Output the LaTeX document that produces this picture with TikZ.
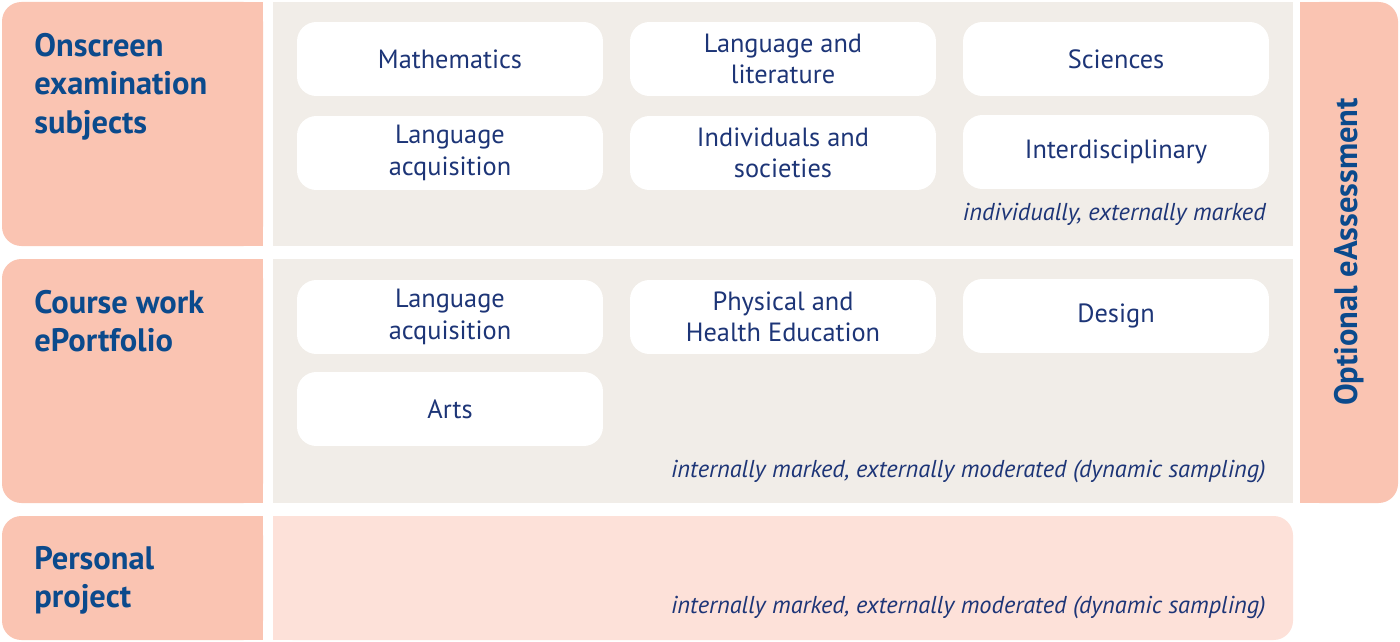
\documentclass[tikz,border=0pt]{standalone}
\usepackage{fontspec}
\setmainfont{PT Sans}
\definecolor{salmon}{HTML}{FAC4B2}
\definecolor{panelgrey}{HTML}{F1EDE8}
\definecolor{palepink}{HTML}{FDE1D9}
\definecolor{headblue}{HTML}{0B4A8C}
\definecolor{textnavy}{HTML}{1D3577}
\tikzset{
  subj/.style={fill=white, rounded corners=11pt, minimum width=6.12cm, minimum height=1.48cm,
    align=center, text=textnavy, font=\fontsize{15}{18}\selectfont},
  head/.style={anchor=north west, inner sep=0pt, align=left, text=headblue, font=\fontsize{18.5}{21.8}\selectfont\bfseries},
  note/.style={anchor=base east, inner sep=0pt, text=textnavy, font=\fontsize{13.9}{16}\selectfont\itshape},
}
\begin{document}
\begin{tikzpicture}[x=0.02cm, y=-0.02cm]
	\useasboundingbox (0,0) rectangle (1400,642);

	% left column
	\fill[salmon, rounded corners=11pt] (2,2) rectangle (263,246);
	\fill[salmon] (150,2) rectangle (263,246);
	\fill[salmon, rounded corners=11pt] (2,259) rectangle (263,503);
	\fill[salmon] (150,259) rectangle (263,503);
	\fill[salmon, rounded corners=11pt] (2,516) rectangle (263,640);
	\fill[salmon] (150,516) rectangle (263,640);

	% panels
	\fill[panelgrey] (273,2) rectangle (1293,246);
	\fill[panelgrey] (273,259) rectangle (1293,503);
	\fill[palepink, rounded corners=11pt] (273,516) rectangle (1293,640);
	\fill[palepink] (273,516) rectangle (900,640);

	% right column
	\fill[salmon, rounded corners=11pt] (1300,2) rectangle (1398,503);
	\fill[salmon] (1300,2) rectangle (1340,503);

	% headings
	\node[head] (onscreen) at (34,33) {Onscreen\\examination\\subjects};
	\node[head] (course) at (34,290) {Course work\\ePortfolio};
	\node[head] (personal) at (34,546) {Personal\\project};
	\node[text=headblue, font=\fontsize{18.5}{22}\selectfont\bfseries, rotate=90] (optional) at (1349,252) {Optional eAssessment};

	% onscreen subjects
	\node[subj] (maths) at (450,59) {Mathematics};
	\node[subj] (langlit) at (783,59) {Language and\\literature};
	\node[subj] (sciences) at (1116,59) {Sciences};
	\node[subj] (langacq) at (450,153) {Language\\acquisition};
	\node[subj] (indsoc) at (783,153) {Individuals and\\societies};
	\node[subj] (interdisc) at (1116,152) {Interdisciplinary};
	\node[note] (exnote) at (1266,220) {individually, externally marked};

	% ePortfolio subjects
	\node[subj] (portacq) at (450,317) {Language\\acquisition};
	\node[subj] (phe) at (783,317) {Physical and\\Health Education};
	\node[subj] (design) at (1116,316) {Design};
	\node[subj] (arts) at (450,409) {Arts};
	\node[note] (portnote) at (1266,477) {internally marked, externally moderated (dynamic sampling)};

	% personal project
	\node[note] (ppnote) at (1266,613) {internally marked, externally moderated (dynamic sampling)};
\end{tikzpicture}
\end{document}
